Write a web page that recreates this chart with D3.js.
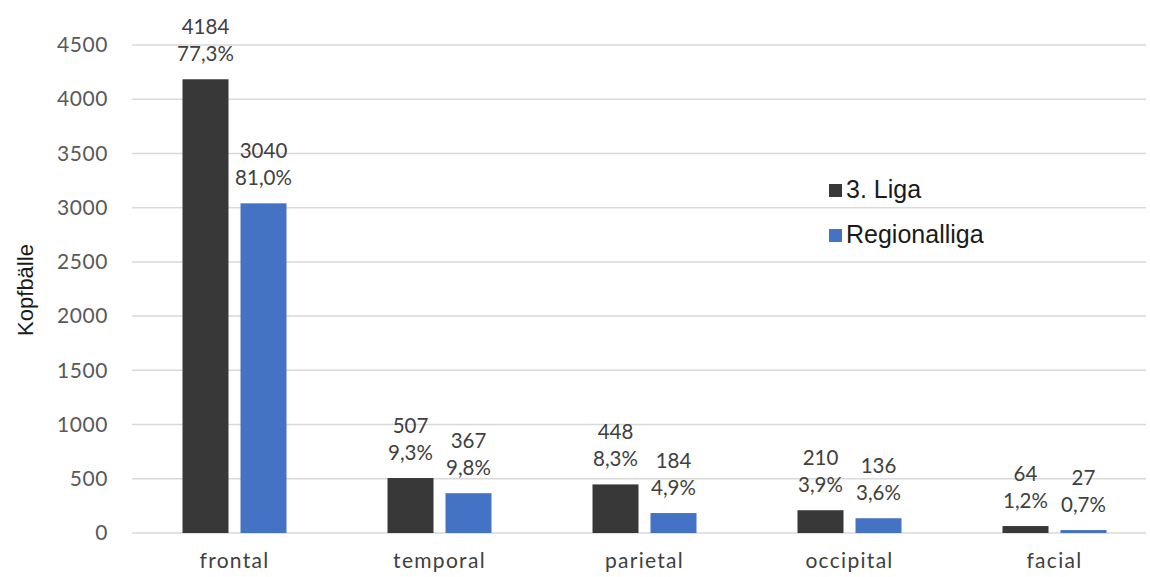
<!DOCTYPE html>
<html>
<head>
<meta charset="utf-8">
<script src="https://cdn.jsdelivr.net/npm/d3@7"></script>
<style>
  html, body { margin: 0; padding: 0; background: #fff; }
  svg { display: block; }
</style>
</head>
<body>
<svg id="chart" width="1150" height="577"></svg>
<script>
// Head-contact regions
const categories = ["frontal", "temporal", "parietal", "occipital", "facial"];
const seriesNames = ["3. Liga", "Regionalliga"];
const liga3 = [4184, 507, 448, 210, 64];
const regionalliga = [3040, 367, 184, 136, 27];
const liga3Pct = ["77,3%", "9,3%", "8,3%", "3,9%", "1,2%"];
const regionalligaPct = ["81,0%", "9,8%", "4,9%", "3,6%", "0,7%"];
const yTicks = [0, 500, 1000, 1500, 2000, 2500, 3000, 3500, 4000, 4500];

const colors = ["#383838", "#4472C4"];
const labelFont = "Lato, 'Open Sans', sans-serif";
const legendFont = "'Liberation Sans', Arial, sans-serif";

const svg = d3.select("#chart");
const plot = { left: 132, right: 1157, top: 45, bottom: 533 };

const x = d3.scaleBand().domain(categories).range([plot.left, plot.right]).padding(0);
const y = d3.scaleLinear().domain([0, 4500]).range([plot.bottom, plot.top]);

// gridlines
svg.append("g").selectAll("line").data(yTicks).join("line")
  .attr("x1", plot.left).attr("x2", 1146)
  .attr("y1", d => y(d)).attr("y2", d => y(d))
  .attr("stroke", "#d9d9d9").attr("stroke-width", 1.5);

// y axis tick labels
const yAxis = d3.axisLeft(y).tickValues(yTicks).tickFormat(d3.format("d"))
  .tickSize(0).tickPadding(0);
const yg = svg.append("g").attr("transform", `translate(108,0)`).call(yAxis);
yg.select(".domain").remove();
yg.selectAll("text")
  .attr("font-family", labelFont).attr("font-size", 21)
  .attr("letter-spacing", 0.6)
  .attr("fill", "#595959");

// x axis category labels
const xAxis = d3.axisBottom(x).tickSize(0).tickPadding(0);
const xg = svg.append("g").attr("transform", `translate(0,553)`).call(xAxis);
xg.select(".domain").remove();
xg.selectAll("text")
  .attr("font-family", labelFont).attr("font-size", 21)
  .attr("letter-spacing", 1.3)
  .attr("fill", "#404040");

// y axis title
svg.append("text")
  .attr("transform", "translate(33,290) rotate(-90)")
  .attr("text-anchor", "middle")
  .attr("font-family", legendFont).attr("font-size", 22)
  .attr("fill", "#1a1a1a")
  .text("Kopfbälle");

// bars
const barW = 46, gap = 12;
const series = [
  { name: seriesNames[0], values: liga3, pct: liga3Pct, color: colors[0], offset: -gap / 2 - barW },
  { name: seriesNames[1], values: regionalliga, pct: regionalligaPct, color: colors[1], offset: gap / 2 }
];

series.forEach(s => {
  const g = svg.append("g");
  const rows = categories.map((c, i) => ({ c, v: s.values[i], p: s.pct[i] }));
  const cx = d => x(d.c) + x.bandwidth() / 2 + s.offset;
  g.selectAll("rect").data(rows).join("rect")
    .attr("x", cx)
    .attr("y", d => y(d.v))
    .attr("width", barW)
    .attr("height", d => y(0) - y(d.v))
    .attr("fill", s.color);
  const lbl = g.selectAll("text.lbl").data(rows).join("text")
    .attr("class", "lbl")
    .attr("text-anchor", "middle")
    .attr("font-family", labelFont).attr("font-size", 20.5)
    .attr("fill", "#404040");
  lbl.append("tspan")
    .attr("x", d => cx(d) + barW / 2)
    .attr("y", d => y(d.v) - 45)
    .text(d => d.v);
  lbl.append("tspan")
    .attr("x", d => cx(d) + barW / 2)
    .attr("y", d => y(d.v) - 18)
    .text(d => d.p);
});

// legend
const legend = svg.append("g").attr("transform", "translate(829,184)");
seriesNames.forEach((n, i) => {
  const row = legend.append("g").attr("transform", `translate(0,${i * 45})`);
  row.append("rect").attr("width", 13).attr("height", 13).attr("fill", colors[i]);
  row.append("text")
    .attr("x", 17).attr("y", 14)
    .attr("font-family", legendFont).attr("font-size", 25)
    .attr("fill", "#1a1a1a")
    .text(n);
});
</script>
</body>
</html>
